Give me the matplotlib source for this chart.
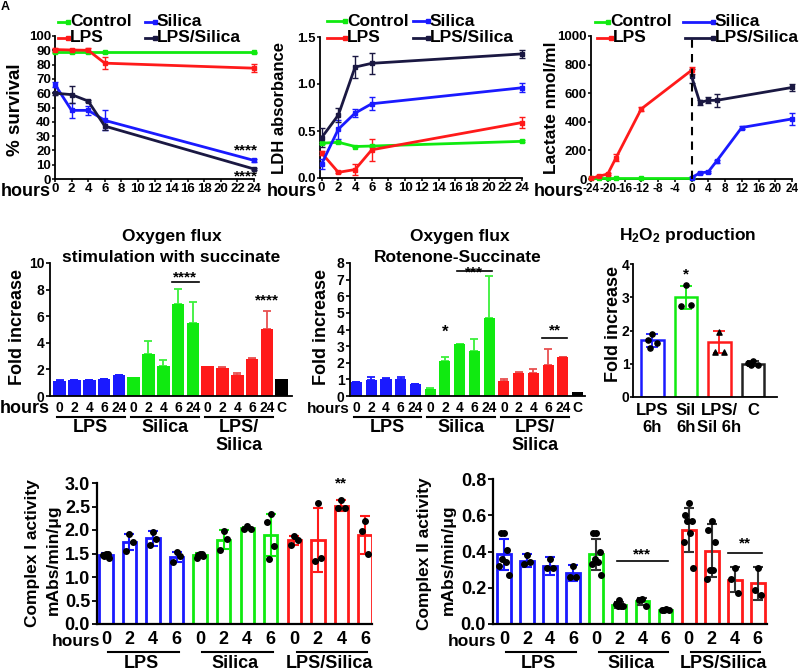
import numpy as np
import matplotlib
matplotlib.use("Agg")
import matplotlib.pyplot as plt
from matplotlib.lines import Line2D
from matplotlib.ticker import FormatStrFormatter

plt.rcParams["font.family"] = ["Liberation Sans", "DejaVu Sans"]
plt.rcParams["font.weight"] = "bold"
plt.rcParams["axes.linewidth"] = 1.3
plt.rcParams["axes.unicode_minus"] = False
plt.rcParams["mathtext.fontset"] = "custom"
plt.rcParams["mathtext.rm"] = "Liberation Sans:bold"
plt.rcParams["mathtext.default"] = "rm"

GREEN = "#10ea10"
BLUE = "#1a1aff"
RED = "#ff1a1a"
NAVY = "#1a1842"

# ---------- data: % survival ----------
surv_hours = [0, 2, 4, 6, 24]
surv_control = [88.5, 88.5, 88.5, 88.5, 88.5]
surv_control_err = [0.5, 0.5, 0.5, 0.5, 0.5]
surv_lps = [90.5, 90.2, 90.0, 81.0, 77.5]
surv_lps_err = [1.0, 1.0, 1.5, 4.0, 3.0]
surv_silica = [66.0, 48.0, 48.0, 41.0, 13.0]
surv_silica_err = [2.0, 5.0, 3.0, 7.0, 1.0]
surv_lpssil = [60.0, 59.0, 54.5, 37.0, 7.0]
surv_lpssil_err = [1.0, 6.0, 1.0, 3.0, 1.0]

# ---------- data: LDH ----------
ldh_hours = [0, 2, 4, 6, 24]
ldh_control = [0.37, 0.38, 0.335, 0.34, 0.39]
ldh_control_err = [0.01, 0.01, 0.01, 0.01, 0.01]
ldh_lps = [0.265, 0.06, 0.09, 0.30, 0.59]
ldh_lps_err = [0.02, 0.01, 0.06, 0.12, 0.06]
ldh_silica = [0.15, 0.52, 0.69, 0.79, 0.96]
ldh_silica_err = [0.05, 0.10, 0.04, 0.07, 0.05]
ldh_lpssil = [0.43, 0.67, 1.18, 1.22, 1.32]
ldh_lpssil_err = [0.10, 0.07, 0.12, 0.11, 0.04]

# ---------- data: lactate ----------
lac_pre_hours = [-24, -22, -20, -18, -12, 0]
lac_control = [8, 8, 8, 8, 8, 8]
lac_lps = [5, 20, 35, 150, 490, 760]
lac_lps_err = [3, 5, 8, 22, 15, 25]
lac_post_hours = [0, 2, 4, 6, 12, 24]
lac_silica = [10, 42, 50, 125, 360, 420]
lac_silica_err = [3, 5, 5, 10, 10, 40]
lac_lpssil_hours = [0, 2, 4, 6, 24]
lac_lpssil = [720, 535, 550, 550, 640]
lac_lpssil_err = [50, 20, 20, 45, 25]

# ---------- data: oxygen flux ----------
flux_ticks = ["0", "2", "4", "6", "24"] * 3 + ["C"]
flux_groups = ["LPS", "Silica", "LPS/\nSilica"]
succ_vals = [1.15, 1.2, 1.2, 1.25, 1.55,
             1.4, 3.15, 2.25, 6.9, 5.5,
             2.25, 2.1, 1.6, 2.8, 5.05,
             1.25]
succ_err = [0.03, 0.02, 0.02, 0.04, 0.03,
            0.0, 0.95, 0.45, 1.15, 1.55,
            0.0, 0.1, 0.15, 0.03, 1.35,
            0.0]
rot_vals = [0.82, 0.97, 1.02, 1.05, 0.7,
            0.45, 2.1, 3.1, 2.72, 4.7,
            0.88, 1.36, 1.4, 1.86, 2.35,
            0.25]
rot_err = [0.03, 0.15, 0.07, 0.12, 0.02,
           0.03, 0.22, 0.02, 0.72, 2.52,
           0.12, 0.08, 0.22, 0.97, 0.02,
           0.0]

# ---------- data: H2O2 ----------
h2o2_ticks = ["LPS\n6h", "Sil\n6h", "LPS/\nSil 6h", "C"]
h2o2_mean = [1.7, 3.0, 1.65, 1.0]
h2o2_err = [0.2, 0.35, 0.33, 0.08]
h2o2_pts = [[1.88, 1.72, 1.62, 1.47], [3.37, 2.75, 2.78],
            [1.95, 1.36, 1.36], [1.07, 1.02, 0.95, 0.95]]

# ---------- data: complex I / II ----------
act_ticks = ["0", "2", "4", "6"] * 3
act_groups = ["LPS", "Silica", "LPS/Silica"]
c1_mean = [1.47, 1.74, 1.82, 1.43, 1.47, 1.79, 2.04, 1.9, 1.78, 1.78, 2.52, 1.9]
c1_err = [0.04, 0.17, 0.16, 0.11, 0.04, 0.2, 0.03, 0.45, 0.09, 0.68, 0.12, 0.4]
c1_pts = [[1.48, 1.46, 1.40, 1.44, 1.49], [1.91, 1.56, 1.75], [1.96, 1.68, 1.80],
          [1.53, 1.32, 1.44], [1.48, 1.40, 1.44, 1.47, 1.50], [1.98, 1.57, 1.80],
          [2.08, 2.02, 2.03], [2.35, 2.18, 1.67, 1.38], [1.88, 1.68, 1.78],
          [2.57, 1.35, 1.41], [2.63, 2.47, 2.47], [2.20, 1.98, 1.48]]
c2_mean = [0.385, 0.35, 0.32, 0.28, 0.385, 0.105, 0.125, 0.08, 0.52, 0.405, 0.245, 0.225]
c2_err = [0.085, 0.035, 0.05, 0.045, 0.085, 0.015, 0.02, 0.005, 0.12, 0.145, 0.07, 0.09]
c2_pts = [[0.50, 0.50, 0.41, 0.36, 0.34, 0.32, 0.27], [0.38, 0.33, 0.34],
          [0.36, 0.31, 0.31], [0.32, 0.26, 0.26],
          [0.50, 0.50, 0.40, 0.36, 0.34, 0.33, 0.27], [0.13, 0.11, 0.10, 0.10, 0.10],
          [0.14, 0.135, 0.10], [0.085, 0.08, 0.075, 0.08],
          [0.67, 0.60, 0.57, 0.57, 0.50, 0.45, 0.31], [0.57, 0.52, 0.45, 0.30, 0.30, 0.25],
          [0.31, 0.25, 0.17], [0.31, 0.19, 0.16]]

# ---------- canvas (pixel layout helpers) ----------
W, H = 800, 671
fig = plt.figure(figsize=(W / 100, H / 100), dpi=100)

BOX = {
    "A": (55, 36, 254, 179),
    "B": (320, 37, 522, 178),
    "C": (591, 36, 792, 179),
    "D": (50, 263, 292, 396),
    "E": (350, 263, 585, 396),
    "F": (633, 264, 777, 397),
    "G": (97, 483, 372, 624),
    "H": (493, 479, 767, 624),
}


def add_ax(key):
    x0, y0, x1, y1 = BOX[key]
    ax = fig.add_axes([x0 / W, 1 - y1 / H, (x1 - x0) / W, (y1 - y0) / H])
    ax.spines[["top", "right"]].set_visible(False)
    ax.patch.set_alpha(0)
    return ax


def yfrac(key, py):
    x0, y0, x1, y1 = BOX[key]
    return (y1 - py) / (y1 - y0)


def ptext(x, y, s, **kw):
    return fig.text(x / W, 1 - y / H, s, **kw)


def stars(ax, x, y, s, fs=11, **kw):
    # asterisks sit high in the em box, shift so their centre lands on y
    ax.annotate(s, (x, y), xytext=(0, -0.23 * fs), textcoords="offset points",
                ha="center", va="center", fontsize=fs, annotation_clip=False, **kw)


def legend(entries, fs=12.5):
    for label, color, hx0, tx, y in entries:
        fig.add_artist(Line2D([hx0 / W, (tx - 2) / W], [1 - y / H] * 2,
                              transform=fig.transFigure, color=color, lw=2,
                              marker="s", ms=3, markevery=[1]))
        ptext(tx, y, label, ha="left", va="center", fontsize=fs)


def line(ax, x, y, err, color):
    ax.errorbar(x, y, yerr=err, color=color, ecolor=color, lw=2, elinewidth=1,
                capsize=2.5, capthick=1, marker="s", ms=3, clip_on=False, zorder=3)


def top_ticks(ax, xsize, ysize):
    ax.tick_params(length=2.5, width=1.1, pad=0.5)
    ax.tick_params(axis="x", labelsize=xsize)
    ax.tick_params(axis="y", labelsize=ysize)


# ---------- A: survival ----------
axA = add_ax("A")
line(axA, surv_hours, surv_control, surv_control_err, GREEN)
line(axA, surv_hours, surv_lps, surv_lps_err, RED)
line(axA, surv_hours, surv_silica, surv_silica_err, BLUE)
line(axA, surv_hours, surv_lpssil, surv_lpssil_err, NAVY)
axA.set_xlim(0, 24)
axA.set_ylim(0, 100)
axA.set_xticks(range(0, 25, 2))
axA.set_yticks(range(0, 101, 10))
top_ticks(axA, 9.5, 9.5)
stars(axA, 23, 22.6, "****")
stars(axA, 23, 4.4, "****")

# ---------- B: LDH ----------
axB = add_ax("B")
line(axB, ldh_hours, ldh_control, ldh_control_err, GREEN)
line(axB, ldh_hours, ldh_lps, ldh_lps_err, RED)
line(axB, ldh_hours, ldh_silica, ldh_silica_err, BLUE)
line(axB, ldh_hours, ldh_lpssil, ldh_lpssil_err, NAVY)
axB.set_xlim(-0.2, 24)
axB.set_ylim(0, 1.5)
axB.set_xticks(range(0, 25, 2))
axB.set_yticks([0, 0.5, 1.0, 1.5])
axB.yaxis.set_major_formatter(FormatStrFormatter("%.1f"))
top_ticks(axB, 9.5, 9.5)

# ---------- C: lactate ----------
axC = add_ax("C")
line(axC, lac_pre_hours, lac_control, [0] * len(lac_control), GREEN)
line(axC, lac_pre_hours, lac_lps, lac_lps_err, RED)
line(axC, lac_post_hours, lac_silica, lac_silica_err, BLUE)
line(axC, lac_lpssil_hours, lac_lpssil, lac_lpssil_err, NAVY)
axC.axvline(0, color="black", lw=1.5, ls=(0, (4, 3)), zorder=4)
axC.set_xlim(-24, 24)
axC.set_ylim(0, 1000)
axC.set_xticks(range(-24, 25, 4))
axC.set_yticks(range(0, 1001, 200))
top_ticks(axC, 8.5, 9.5)

legend([("Control", GREEN, 58, 70, 22), ("Silica", BLUE, 145, 157, 22),
        ("LPS", RED, 58, 70, 38), ("LPS/Silica", NAVY, 145, 157, 38),
        ("Control", GREEN, 327, 347, 21), ("Silica", BLUE, 413, 430, 21),
        ("LPS", RED, 327, 347, 38), ("LPS/Silica", NAVY, 413, 430, 38),
        ("Control", GREEN, 595, 610, 22), ("Silica", BLUE, 683, 715, 22),
        ("LPS", RED, 597, 613, 38), ("LPS/Silica", NAVY, 685, 715, 38)])

for x in (51, 317, 584):
    ptext(x, 191, "hours", ha="right", va="center", fontsize=13)
ptext(16, 110, "% survival", rotation=90, ha="center", va="center", fontsize=13.5)
ptext(280, 108, "LDH absorbance", rotation=90, ha="center", va="center", fontsize=12)
ptext(551, 108, "Lactate nmol/ml", rotation=90, ha="center", va="center", fontsize=12.5)
ptext(1, 1, "A", ha="left", va="top", fontsize=9)

# ---------- D / E: oxygen flux bars ----------
flux_colors = [BLUE] * 5 + [GREEN] * 5 + [RED] * 5 + ["black"]
flux_ecolors = [BLUE] * 5 + ["#3cf03c"] * 5 + ["#e85050"] * 5 + ["black"]


def flux_panel(key, vals, errs, width, ymax, ystep, hours_fs):
    ax = add_ax(key)
    x = np.arange(len(vals))
    ax.bar(x, vals, width=width, color=flux_colors, zorder=2)
    for i in range(len(vals)):
        if errs[i] > 0:
            ax.errorbar(x[i], vals[i], yerr=[[0], [errs[i]]], fmt="none",
                        ecolor=flux_ecolors[i], elinewidth=1.3, capsize=3,
                        capthick=1.3, zorder=1)
    ax.set_ylim(0, ymax)
    ax.set_yticks(np.arange(0, ymax + 0.01, ystep))
    ax.set_xticks(x, flux_ticks)
    ax.tick_params(labelsize=10)
    ax.tick_params(axis="x", length=0, pad=3.5)
    ax.tick_params(axis="y", length=3, width=1.2, pad=1)
    tr = ax.get_xaxis_transform()
    for g, name in enumerate(flux_groups):
        ax.plot([g * 5 - 0.2, g * 5 + 4.4], [yfrac(key, 417)] * 2, transform=tr,
                color="black", lw=1.5, clip_on=False)
        ax.text(g * 5 + 2.1, yfrac(key, 419), name, transform=tr, ha="center",
                va="top", fontsize=13, linespacing=1.1)
    x0 = BOX[key][0]
    ptext(x0, 409, "hours", ha="right", va="center", fontsize=hours_fs)
    return ax


axD = flux_panel("D", succ_vals, succ_err, 0.85, 10, 2, 13)
axD.set_xlim(-0.65, 15.7)
axD.plot([7.6, 9.4], [8.6, 8.6], color="black", lw=1.2)
stars(axD, 8.5, 9.2, "****", fs=11)
stars(axD, 14, 7.45, "****", fs=11)
ptext(18, 327, "Fold increase", rotation=90, ha="center", va="center", fontsize=13)
ptext(172, 236, "Oxygen flux", ha="center", va="center", fontsize=12.5)
ptext(171, 258, "stimulation with succinate", ha="center", va="center", fontsize=12.5)

axE = flux_panel("E", rot_vals, rot_err, 0.75, 8, 1, 11)
axE.set_xlim(-0.44, 15.5)
axE.plot([6.85, 9.2], [7.5, 7.5], color="black", lw=1.2)
stars(axE, 8.0, 7.65, "***", fs=11)
stars(axE, 6, 4.05, "*", fs=12)
axE.plot([12.6, 14.3], [3.5, 3.5], color="black", lw=1.2)
stars(axE, 13.45, 4.15, "**", fs=11)
ptext(322, 327, "Fold increase", rotation=90, ha="center", va="center", fontsize=13)
ptext(460, 236, "Oxygen flux", ha="center", va="center", fontsize=12.5)
ptext(458, 258, "Rotenone-Succinate", ha="center", va="center", fontsize=12.5)

# ---------- F: H2O2 ----------
axF = add_ax("F")
h2o2_colors = [BLUE, GREEN, RED, "#222222"]
h2o2_markers = ["o", "o", "^", "o"]
JITTER = [0.0, -0.14, 0.14, -0.07, 0.07, -0.2, 0.2]
xf = np.arange(len(h2o2_mean))
axF.bar(xf, h2o2_mean, width=0.67, facecolor="white", edgecolor=h2o2_colors,
        linewidth=1.8, zorder=2)
for i in range(len(h2o2_mean)):
    axF.errorbar(xf[i], h2o2_mean[i], yerr=h2o2_err[i], fmt="none",
                 ecolor=h2o2_colors[i], elinewidth=1.3, capsize=4, capthick=1.3, zorder=3)
    pts = h2o2_pts[i]
    axF.scatter(xf[i] + np.resize(JITTER, len(pts)), pts, s=14, color="black",
                marker=h2o2_markers[i], zorder=4)
axF.set_xlim(-0.58, 3.72)
axF.set_ylim(0, 4)
axF.set_yticks(range(0, 5))
axF.set_xticks(xf, h2o2_ticks)
axF.tick_params(axis="x", length=0, pad=4, labelsize=12)
axF.tick_params(axis="y", length=2, width=1.2, pad=0.5, labelsize=10)
stars(axF, 1, 3.79, "*", fs=11)
ptext(613, 324, "Fold increase", rotation=90, ha="center", va="center", fontsize=13)
ptext(688, 235, r"H$_2$O$_2$ production", ha="center", va="center", fontsize=12.5)

# ---------- G / H: complex activity ----------
act_colors = [BLUE] * 4 + [GREEN] * 4 + [RED] * 4


def activity_panel(key, means, errs, pts_list, ecolors, ymax, ystep, width):
    ax = add_ax(key)
    x = np.arange(len(means))
    ax.bar(x, means, width=width, facecolor="white", edgecolor=act_colors,
           linewidth=2, zorder=2)
    for i in range(len(means)):
        ax.errorbar(x[i], means[i], yerr=errs[i], fmt="none", ecolor=ecolors[i],
                    elinewidth=1.5, capsize=3.5, capthick=1.5, zorder=3)
        pts = pts_list[i]
        ax.scatter(x[i] + np.resize(JITTER, len(pts)), pts, s=16, color="black", zorder=4)
    ax.set_ylim(0, ymax)
    ax.set_yticks(np.arange(0, ymax + 0.001, ystep))
    ax.yaxis.set_major_formatter(FormatStrFormatter("%.1f"))
    ax.set_xticks(x, act_ticks)
    ax.tick_params(labelsize=13)
    ax.tick_params(axis="x", length=0, pad=5)
    ax.tick_params(axis="y", length=3.5, width=1.3, pad=1.5)
    ax.spines[["left", "bottom"]].set_linewidth(1.6)
    tr = ax.get_xaxis_transform()
    for g, name in enumerate(act_groups):
        ax.plot([g * 4 + 0.1, g * 4 + 3.1], [yfrac(key, 652)] * 2, transform=tr,
                color="black", lw=1.5, clip_on=False)
        ax.text(g * 4 + 1.5, yfrac(key, 668), name, transform=tr, ha="center",
                va="baseline", fontsize=13)
    x0 = BOX[key][0]
    ptext(x0 + 3, 642, "hours", ha="right", va="center", fontsize=12.5)
    return ax


axG = activity_panel("G", c1_mean, c1_err, c1_pts, act_colors, 3.0, 0.5, 0.57)
axG.set_xlim(-0.38, 11.3)
stars(axG, 10, 3.07, "**", fs=11)
ptext(33, 553, "Complex I activity", rotation=90, ha="center", va="center", fontsize=12.5)
ptext(53, 560, "mAbs/min/\u03bcg", rotation=90, ha="center", va="center", fontsize=12.5)

c2_ecolors = [BLUE] * 4 + ["#333333"] * 8
axH = activity_panel("H", c2_mean, c2_err, c2_pts, c2_ecolors, 0.8, 0.2, 0.6)
axH.set_xlim(-0.48, 11.4)
axH.plot([4.9, 7.1], [0.35, 0.35], color="black", lw=1.2)
stars(axH, 6, 0.405, "***", fs=11)
axH.plot([9.7, 11.2], [0.39, 0.39], color="black", lw=1.2)
stars(axH, 10.45, 0.465, "**", fs=11)
ptext(425, 554, "Complex II activity", rotation=90, ha="center", va="center", fontsize=12.5)
ptext(448, 560, "mAbs/min/\u03bcg", rotation=90, ha="center", va="center", fontsize=12.5)

fig.savefig("out.png", dpi=100, facecolor="white")
